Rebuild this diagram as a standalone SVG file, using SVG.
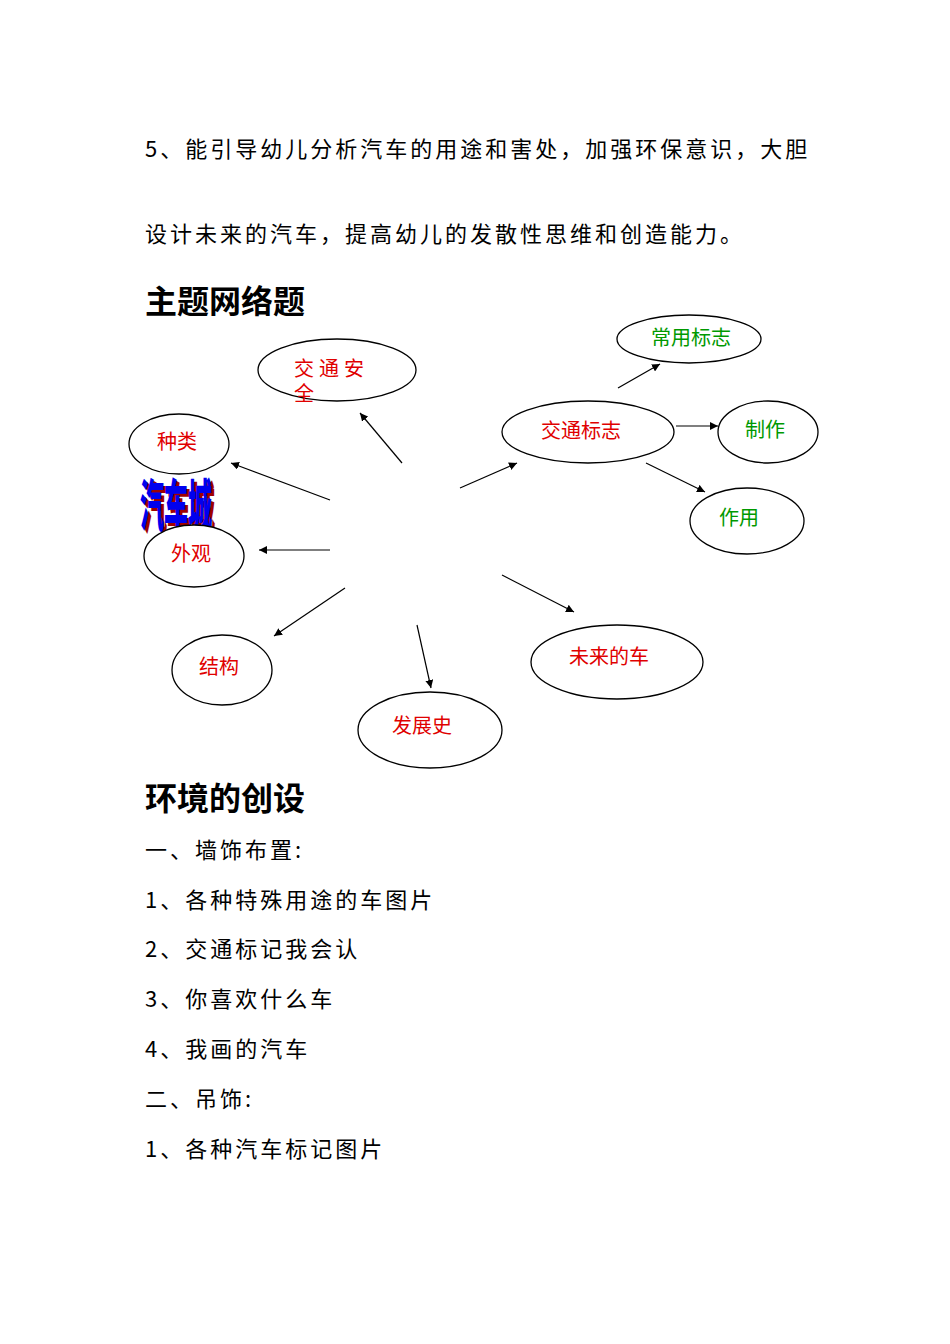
<svg xmlns="http://www.w3.org/2000/svg" width="950" height="1344" viewBox="0 0 950 1344">
<style>
.b{font-family:"Noto Sans CJK SC","Liberation Serif",serif;font-size:22px;fill:#000;letter-spacing:3px}
.h{font-family:"Noto Sans CJK SC",sans-serif;font-size:32px;font-weight:bold;fill:#000}
.e{fill:#fff;stroke:#000;stroke-width:1.3}
.r{font-family:"Noto Sans CJK SC",sans-serif;font-size:20px;fill:#e00000}
.g{font-family:"Noto Sans CJK SC",sans-serif;font-size:20px;fill:#009900}
.c line{stroke:#000;stroke-width:1.2;marker-end:url(#a)}
</style>
<defs><marker id="a" viewBox="0 0 10 10" refX="10" refY="5" markerWidth="8" markerHeight="8" orient="auto" markerUnits="userSpaceOnUse"><path d="M0,0L10,5L0,10z" fill="#000"/></marker></defs>
<rect width="950" height="1344" fill="#fff"/>
<text class="b" x="145" y="157">5、能引导幼儿分析汽车的用途和害处，加强环保意识，大胆</text>
<text class="b" x="145" y="242">设计未来的汽车，提高幼儿的发散性思维和创造能力。</text>
<text class="h" x="145" y="313">主题网络题</text>
<g class="c">
<line x1="402" y1="463" x2="360" y2="413"/>
<line x1="330" y1="500" x2="231" y2="463"/>
<line x1="330" y1="550" x2="259" y2="550"/>
<line x1="345" y1="588" x2="274" y2="636"/>
<line x1="417" y1="625" x2="431" y2="688"/>
<line x1="502" y1="575" x2="574" y2="612"/>
<line x1="460" y1="488" x2="517" y2="463"/>
<line x1="618" y1="388" x2="660" y2="364"/>
<line x1="676" y1="426" x2="718" y2="426"/>
<line x1="646" y1="463" x2="705" y2="492"/>
</g>
<g id="n1"><ellipse class="e" cx="337" cy="370" rx="79" ry="31"/><text class="r" x="294" y="376" letter-spacing="5">交通安</text><text class="r" x="294" y="401">全</text></g>
<g id="n2"><ellipse class="e" cx="179" cy="444" rx="50" ry="30"/><text class="r" x="157" y="449">种类</text></g>
<g id="title"><text x="143" y="529" font-family="Noto Sans CJK SC,sans-serif" font-size="56" font-weight="900" fill="#a00000" textLength="72" lengthAdjust="spacingAndGlyphs">汽车城</text><text x="140" y="526" font-family="Noto Sans CJK SC,sans-serif" font-size="56" font-weight="900" fill="#0000ee" textLength="72" lengthAdjust="spacingAndGlyphs">汽车城</text></g>
<g id="n3"><ellipse class="e" cx="194" cy="556" rx="50" ry="31"/><text class="r" x="171" y="561">外观</text></g>
<g id="n4"><ellipse class="e" cx="222" cy="670" rx="50" ry="35"/><text class="r" x="199" y="674">结构</text></g>
<g id="n5"><ellipse class="e" cx="430" cy="730" rx="72" ry="38"/><text class="r" x="392" y="733">发展史</text></g>
<g id="n6"><ellipse class="e" cx="617" cy="662" rx="86" ry="37"/><text class="r" x="569" y="664">未来的车</text></g>
<g id="n7"><ellipse class="e" cx="588" cy="432" rx="86" ry="31"/><text class="r" x="541" y="438">交通标志</text></g>
<g id="n8"><ellipse class="e" cx="689" cy="339" rx="72" ry="24"/><text class="g" x="651" y="345" font-size="18">常用标志</text></g>
<g id="n9"><ellipse class="e" cx="768" cy="432" rx="50" ry="31"/><text class="g" x="745" y="437">制作</text></g>
<g id="n10"><ellipse class="e" cx="747" cy="521" rx="57" ry="33"/><text class="g" x="719" y="525">作用</text></g>
<text class="h" x="145" y="810">环境的创设</text>
<text class="b" x="145" y="858">一、墙饰布置:</text>
<text class="b" x="145" y="908">1、各种特殊用途的车图片</text>
<text class="b" x="145" y="957">2、交通标记我会认</text>
<text class="b" x="145" y="1007">3、你喜欢什么车</text>
<text class="b" x="145" y="1057">4、我画的汽车</text>
<text class="b" x="145" y="1107">二、吊饰:</text>
<text class="b" x="145" y="1157">1、各种汽车标记图片</text>
</svg>
